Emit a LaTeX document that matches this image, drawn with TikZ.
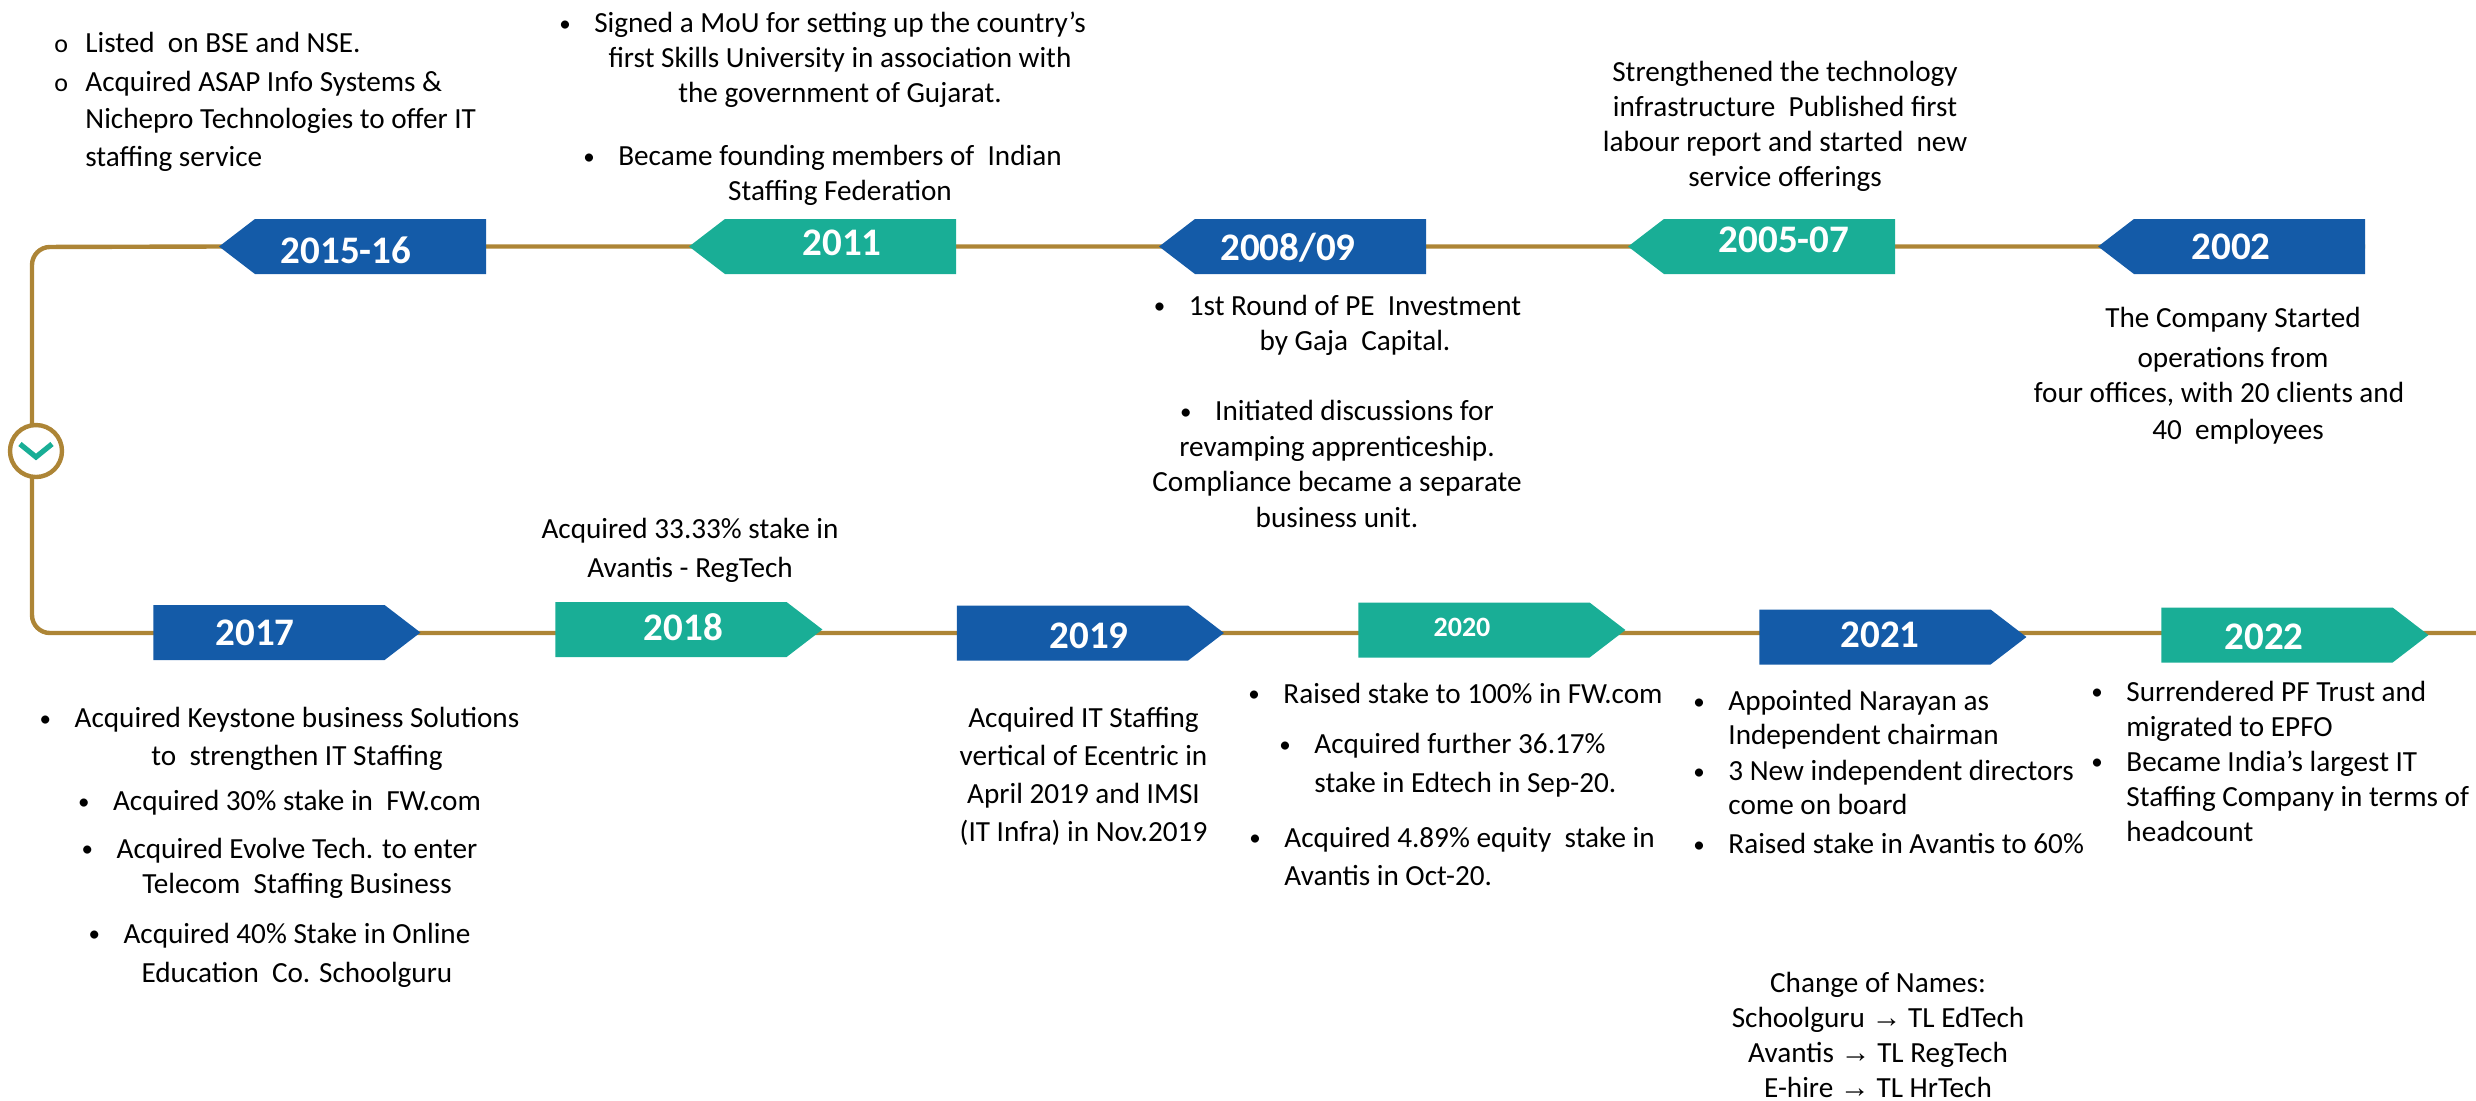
\documentclass[tikz,border=0pt]{standalone}
\usepackage{fontspec}
\setmainfont{Carlito}
\newfontfamily\arrowfont{Liberation Sans}
\usetikzlibrary{shapes.symbols,backgrounds}
\definecolor{tlblue}{HTML}{145BA8}
\definecolor{tlteal}{HTML}{19AE96}
\definecolor{tlgold}{HTML}{AD8536}
\newcommand{\bulbox}{\makebox[17.5pt][l]{\raisebox{0.6pt}{\fontsize{11.5}{11.5}\selectfont •}}}
\newcommand{\lbul}{\llap{\bulbox}}
\newcommand{\obul}{\llap{\makebox[15.5pt][l]{\fontsize{13}{13}\selectfont o}}}
\newcommand{\arr}{{\arrowfont\fontsize{15}{15}\selectfont →}}
\tikzset{
  yearbox/.style={shape=signal,signal pointer angle=75,minimum width=133.5pt,minimum height=27.5pt,inner sep=0pt,outer sep=0pt,fill=#1},
  toleft/.style={signal to=west},
  toright/.style={signal to=east},
  yearlab/.style={text=white,inner sep=0pt,font=\fontsize{19.5}{19.5}\selectfont\bfseries},
  ctext/.style={align=center,inner sep=0pt,text=black,font=\fontsize{14.6}{17.5}\selectfont},
  ltext/.style={align=left,anchor=west,inner sep=0pt,text=black,font=\fontsize{14.6}{17.5}\selectfont},
  trunk/.style={draw=tlgold,line width=2.2pt,rounded corners=9pt},
}
\begin{document}
\begin{tikzpicture}[x=0.5pt,y=-0.5pt]
\useasboundingbox (0,0) rectangle (2476,1100);
% year boxes, top row
\node[yearbox=tlblue,toleft] (y1516) at (370.5,246.5) {};
\node[yearbox=tlteal,toleft] (y2011) at (840.5,246.5) {};
\node[yearbox=tlblue,toleft] (y2008) at (1310.5,246.5) {};
\node[yearbox=tlteal,toleft] (y2005) at (1779.5,246.5) {};
\node[yearbox=tlblue,toleft] (y2002) at (2249.5,246.5) {};
% year boxes, bottom row
\node[yearbox=tlblue,toright] (y2017) at (269,632.5) {};
\node[yearbox=tlteal,toright] (y2018) at (671,629.5) {};
\node[yearbox=tlblue,toright] (y2019) at (1072.5,633) {};
\node[yearbox=tlteal,toright] (y2020) at (1474,630) {};
\node[yearbox=tlblue,toright] (y2021) at (1875,637) {};
\node[yearbox=tlteal,toright] (y2022) at (2277,635) {};
% trunk line
\coordinate (cTL) at (32,247);
\coordinate (cBL) at (32,633);
\coordinate (rEnd) at (2476,633);
\begin{pgfonlayer}{background}
\draw[trunk] (y2002.east) -- (y1516.west) -- (cTL) -- (cBL) -- (rEnd);
\end{pgfonlayer}
% circle with chevron
\node[circle,draw=tlgold,line width=2.2pt,fill=white,minimum size=26pt,inner sep=0pt] (knob) at (36,451) {};
\draw[draw=tlteal,line width=2.6pt] (20,444) -- (36,457) -- (52,444);
% year labels
\node[yearlab] (t1516) at (346,250) {2015-16};
\node[yearlab] (t2011) at (842,243) {2011};
\node[yearlab] (t2008) at (1288,248) {2008/09};
\node[yearlab] (t2005) at (1784,240) {2005-07};
\node[yearlab] (t2002) at (2231,247) {2002};
\node[yearlab] (t2017) at (255,633) {2017};
\node[yearlab] (t2018) at (683.5,627) {2018};
\node[yearlab] (t2019) at (1089,636) {2019};
\node[yearlab,font=\fontsize{14}{14}\selectfont\bfseries] (t2020) at (1462,627) {2020};
\node[yearlab] (t2021) at (1880,635) {2021};
\node[yearlab] (t2022) at (2264,637) {2022};
% texts, top
\node[ltext] (a1) at (85,102) {\obul Listed~ on BSE and NSE.\\[2pt]\obul Acquired ASAP Info Systems \&\\[1pt]Nichepro Technologies to offer IT\\[1.5pt]staffing service};
\node[ctext] (b1) at (840,59.5) {\lbul Signed a MoU for setting up the country’s\\first Skills University in association with\\the government of Gujarat.};
\node[ctext] (b2) at (840,175.5) {\lbul Became founding members of~ Indian\\Staffing Federation};
\node[ctext] (c1) at (1355,325) {\lbul 1st Round of PE~ Investment\\by Gaja~ Capital.};
\node[ctext] (c2) at (1337,464) {\bulbox Initiated discussions for\\[0.4pt]revamping apprenticeship.\\[0.4pt]Compliance became a separate\\[0.4pt]business unit.};
\node[ctext] (d1) at (1785,126) {Strengthened the technology\\infrastructure~ Published first\\labour report and started~ new\\service offerings};
\node[ctext] (e1) at (2233,376) {The Company Started\\[2.5pt]operations from\\four offices, with 20 clients and\hspace*{14pt}\mbox{}\\[1pt]\hspace*{5pt}40~ employees};
\node[ctext] (f1) at (690,550) {Acquired 33.33\% stake in\\[2pt]Avantis - RegTech};
% texts, bottom
\node[ctext] (g1) at (297,739) {\lbul Acquired Keystone business Solutions\\[1.5pt]to~ strengthen IT Staffing};
\node[ctext] (g2) at (297,803) {\lbul Acquired 30\% stake in~ FW.com};
\node[ctext] (g3) at (297,868) {\lbul Acquired Evolve Tech. to enter\\Telecom~ Staffing Business};
\node[ctext] (g4) at (297,955) {\lbul Acquired 40\% Stake in Online\\[2pt]Education~ Co. Schoolguru};
\node[ctext] (h1) at (1083.5,776) {Acquired IT Staffing\\[1.5pt]vertical of Ecentric in\\[1.5pt]April 2019 and IMSI\\[1.5pt](IT Infra) in Nov.2019};
\node[ltext] (i1) at (1283,693) {\lbul Raised stake to 100\% in FW.com};
\node[ltext] (i2) at (1314,765) {\lbul Acquired further 36.17\%\\[2pt]stake in Edtech in Sep-20.};
\node[ltext] (i3) at (1284,856) {\lbul Acquired 4.89\% equity~ stake in\\[1.5pt]Avantis in Oct-20.};
\node[ltext] (j1) at (1728,772) {\lbul Appointed Narayan as\\[-0.5pt]Independent chairman\\[0.5pt]\lbul 3 New independent directors\\[-0.5pt]come on board\\[2pt]\lbul Raised stake in Avantis to 60\%};
\node[ltext] (k1) at (2126,761) {\lbul Surrendered PF Trust and\\migrated to EPFO\\\lbul Became India’s largest IT\\Staffing Company in terms of\\headcount};
\node[ctext] (l1) at (1878,1035) {Change of Names:\\Schoolguru \arr{} TL EdTech\\Avantis \arr{} TL RegTech\\E-hire \arr{} TL HrTech};
\end{tikzpicture}
\end{document}
